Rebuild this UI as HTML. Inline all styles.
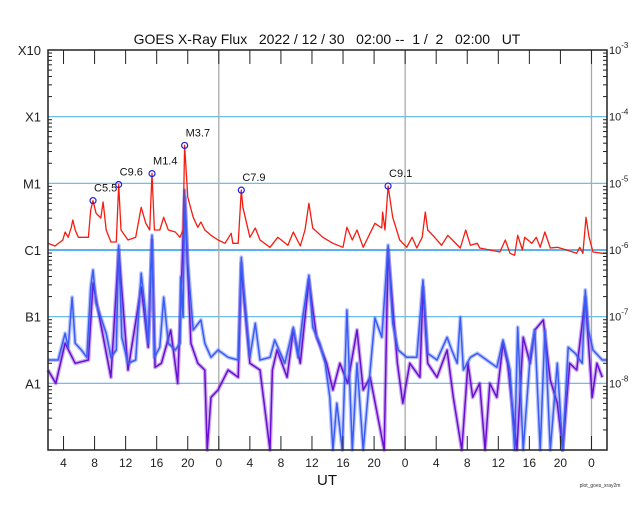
<!DOCTYPE html>
<html><head><meta charset="utf-8"><style>
html,body{margin:0;padding:0;background:#fff;}
svg text{font-family:"Liberation Sans",sans-serif;}
</style></head><body>
<svg id="chart" width="640" height="500" xmlns="http://www.w3.org/2000/svg">
<text x="327" y="44" font-size="14" text-anchor="middle" fill="#111" style="white-space:pre" xml:space="preserve">GOES X-Ray Flux   2022 / 12 / 30   02:00 --  1 /  2   02:00   UT</text>
<g id="grid"></g><g id="series"></g><g id="axes"></g><g id="flares"></g>
<text x="327" y="485" font-size="15" text-anchor="middle" fill="#111">UT</text>
<text x="600" y="487" font-size="5" text-anchor="middle" fill="#333">plot_goes_xray2m</text>
</svg>
<script>
// hours since 2022-12-30 02:00 UT ; values are log10 flux (W/m^2)
const redHours=[0,0.9,1.9,2.2,2.6,3.0,3.2,3.5,3.9,5.2,5.5,5.8,6.2,6.8,7.1,7.5,8.1,8.8,9.1,9.4,10.3,11.3,12.0,12.6,13.1,13.4,13.7,14.4,14.9,15.5,16.4,17.0,17.4,17.6,18.0,18.7,19.3,19.7,20.2,21.0,21.9,22.8,23.6,23.8,24.5,24.9,25.1,26.0,26.7,27.3,28.6,29.6,30.9,31.6,32.5,33.1,33.6,34.1,35.4,36.7,38.0,38.5,39.2,39.8,40.6,42.1,43.0,43.1,43.4,43.8,44.4,45.3,46.2,46.9,47.5,48.2,48.6,48.9,49.8,50.7,51.5,53.1,53.8,54.4,55.3,55.6,56.9,58.2,58.9,59.5,60.1,60.5,61.1,61.4,62.3,62.9,63.4,64.0,64.7,65.6,66.8,68.1,68.5,68.9,69.3,69.7,70.2,71.4,72];
const redLog=[-5.90,-5.94,-5.85,-5.73,-5.81,-5.66,-5.55,-5.70,-5.81,-5.81,-5.40,-5.26,-5.45,-5.52,-5.28,-5.70,-5.88,-5.88,-5.02,-5.70,-5.85,-5.81,-5.36,-5.60,-5.70,-4.85,-5.70,-5.70,-5.51,-5.70,-5.73,-5.81,-5.70,-4.43,-5.21,-5.51,-5.66,-5.58,-5.70,-5.78,-5.85,-5.90,-5.75,-5.90,-5.90,-5.10,-5.36,-5.81,-5.67,-5.85,-5.96,-5.81,-5.93,-5.73,-5.94,-5.70,-5.30,-5.67,-5.81,-5.90,-5.96,-5.66,-5.85,-5.70,-5.96,-5.60,-5.67,-5.43,-5.70,-5.04,-5.51,-5.85,-5.96,-5.81,-5.97,-5.81,-5.43,-5.70,-5.81,-5.93,-5.78,-5.97,-5.70,-5.93,-5.90,-5.97,-6.00,-6.03,-5.85,-6.05,-6.08,-5.78,-6.00,-5.81,-5.90,-5.81,-5.96,-5.73,-5.97,-5.96,-6.00,-6.05,-5.96,-6.05,-5.51,-5.81,-6.03,-6.05,-6.05];
const blueHours=[0,1.3,2.2,2.6,3.1,3.5,4.3,5.0,5.5,5.8,6.2,6.8,7.5,8.1,8.8,9.1,9.5,10.3,11.3,12.0,12.5,12.9,13.4,13.7,14.4,14.9,15.5,16.4,17.0,17.1,17.4,17.6,18.0,18.7,19.7,20.2,21.0,21.9,23.2,24.5,24.9,25.1,26.0,26.7,27.3,28.6,29.2,30.5,31.6,32.2,32.8,33.6,34.1,35.0,35.7,36.3,36.7,37.2,37.9,38.5,39.2,39.8,40.6,41.5,42.1,43.0,43.8,44.4,45.1,46.2,47.5,48.3,48.9,50.1,51.4,52.0,52.7,53.1,53.5,54.4,55.3,56.5,57.8,58.6,59.5,60.1,60.5,61.2,62.1,62.7,63.4,64.0,64.7,65.6,66.3,67.0,67.9,68.8,69.2,69.6,70.2,71.4,72];
const blueLog=[-7.65,-7.65,-7.25,-7.46,-6.71,-7.40,-7.50,-7.61,-6.56,-6.30,-6.80,-7.01,-7.25,-7.61,-7.50,-5.93,-7.31,-7.70,-7.65,-6.35,-6.86,-7.40,-5.78,-7.61,-7.46,-6.71,-7.40,-7.50,-7.40,-6.41,-7.01,-5.10,-6.20,-7.20,-7.05,-7.40,-7.61,-7.50,-7.61,-7.65,-6.11,-6.45,-7.61,-7.10,-7.65,-7.61,-7.35,-7.70,-7.16,-7.61,-7.01,-6.38,-7.16,-7.40,-7.70,-8.21,-9,-8.30,-9,-6.90,-9,-7.70,-9,-7.80,-7.02,-7.31,-5.93,-7.10,-7.50,-7.61,-7.61,-6.45,-7.55,-7.65,-7.31,-7.50,-7.70,-7.01,-7.80,-7.61,-7.55,-7.65,-7.76,-7.35,-7.80,-9,-7.16,-9,-7.61,-7.20,-9,-7.20,-9,-7.70,-9,-7.46,-7.55,-7.70,-6.60,-7.20,-7.50,-7.65,-7.65];
const purpleHours=[0,1.0,2.2,3.5,5.2,5.8,8.1,9.1,10.3,12.0,12.9,13.4,13.8,14.6,15.8,16.7,17.6,18.4,19.3,20.2,20.5,21.0,21.9,23.2,24.5,24.9,25.1,26.0,27.3,28.6,28.9,29.5,30.8,31.6,32.5,33.6,34.6,35.9,36.7,37.6,38.6,39.8,40.6,41.5,43.3,43.8,45.0,45.7,46.6,47.9,48.3,48.9,50.1,51.4,52.2,53.3,54.1,54.7,55.6,56.3,56.9,57.8,58.6,59.2,60.4,61.2,62.1,62.7,63.8,64.7,65.6,66.3,67.2,68.1,69.2,70.1,70.7,71.4];
const purpleLog=[-7.80,-8.00,-7.40,-7.70,-7.65,-6.50,-7.91,-6.00,-7.80,-6.56,-7.46,-5.85,-7.76,-7.70,-7.20,-8.00,-5.21,-7.40,-7.70,-7.80,-9,-8.21,-8.10,-7.80,-7.91,-6.20,-6.56,-7.70,-7.80,-9,-7.80,-7.50,-7.91,-7.20,-7.70,-6.45,-7.31,-7.70,-8.10,-7.70,-8.00,-7.20,-8.10,-7.91,-9,-6.00,-7.70,-8.30,-7.70,-7.91,-6.56,-7.70,-7.91,-7.50,-8.21,-9,-7.70,-8.21,-8.00,-9,-8.00,-8.21,-7.40,-7.70,-9,-7.31,-7.70,-7.20,-7.05,-7.95,-8.30,-9,-7.70,-7.80,-6.71,-8.21,-7.70,-7.91];
const flareHours=[5.8,9.1,13.4,17.6,24.9,43.8];
const flareLabels=["C5.5","C9.6","M1.4","M3.7","C7.9","C9.1"];
const flareFlux=[5.5e-6,9.6e-6,1.4e-5,3.7e-5,7.9e-6,9.1e-6];
const classLabels=["X10","X1","M1","C1","B1","A1"];
const classExp=[-3,-4,-5,-6,-7,-8];
const xTickLabels=["4","8","12","16","20","0","4","8","12","16","20","0","4","8","12","16","20","0"];
const xTickHours=[2,6,10,14,18,22,26,30,34,38,42,46,50,54,58,62,66,70];
const dayHours=[22,46,70];

const L=48,R=607,T=50,B=450,H0=0,H1=72,E0=-9,E1=-3;
const NS="http://www.w3.org/2000/svg";
function xs(h){return L+(h-H0)/(H1-H0)*(R-L);}
function ys(lg){lg=Math.max(E0,Math.min(E1,lg));return B-(lg-E0)/(E1-E0)*(B-T);}
function mk(tag,attrs,parent){const e=document.createElementNS(NS,tag);for(const k in attrs)e.setAttribute(k,attrs[k]);parent.appendChild(e);return e;}
const grid=document.getElementById('grid'),axes=document.getElementById('axes'),ser=document.getElementById('series'),fl=document.getElementById('flares');

classExp.forEach((ex,i)=>{
  const y=ys(ex);
  if(i>0){const g=mk('line',{x1:L,x2:R,y1:y,y2:y,stroke:'#5cb4ee','stroke-width':ex===-6?2:1.2},grid);
  
  }
  const t=mk('text',{x:41,y:y+5,'font-size':13,'text-anchor':'end',fill:'#222'},axes);t.textContent=classLabels[i];
  
  
  const rt=mk('text',{x:609,y:y+4,'font-size':11,fill:'#222'},axes);
  rt.textContent='10';
  const sup=mk('tspan',{dy:-6,'font-size':8},rt);sup.textContent=String(ex);
  
  
});
dayHours.forEach(h=>{const x=xs(h);const d=mk('line',{x1:x,x2:x,y1:T,y2:B,stroke:'#aaa','stroke-width':1.3},grid);
  
  });
for(let ex=E0;ex<E1;ex++){for(let m=2;m<10;m++){const y=ys(ex+Math.log10(m));
  mk('line',{x1:L,x2:L+4,y1:y,y2:y,stroke:'#222'},axes);mk('line',{x1:R-4,x2:R,y1:y,y2:y,stroke:'#222'},axes);}}
xTickHours.forEach((h,i)=>{const x=xs(h);
  mk('line',{x1:x,x2:x,y1:T,y2:T+14,stroke:'#222'},axes);mk('line',{x1:x,x2:x,y1:B-14,y2:B,stroke:'#222'},axes);
  const t=mk('text',{x:x,y:467,'font-size':12,'text-anchor':'middle',fill:'#222'},axes);t.textContent=xTickLabels[i];
  
  });
const frame=mk('rect',{x:L,y:T,width:R-L,height:B-T,fill:'none',stroke:'#222','stroke-width':1.5},axes);



function line(hs,vals,color,name,w,halo){const d=hs.map((h,i)=>(i?'L':'M')+xs(h).toFixed(1)+','+ys(vals[i]).toFixed(1)).join('');
  if(halo){const hp=mk('path',{d:d,fill:'none',stroke:color,'stroke-width':halo,'stroke-opacity':0.35,'stroke-linejoin':'round'},ser);
    
    }
  const p=mk('path',{d:d,fill:'none',stroke:color,'stroke-width':w,'stroke-linejoin':'round'},ser);
  
  }
line(purpleHours,purpleLog,'#6a0fd0','series-short-secondary',1.5,4);
line(blueHours,blueLog,'#3a5cf5','series-short-channel',1.5,4);
line(redHours,redLog,'#f51c10','series-long-channel',1.3,0);

flareHours.forEach((h,i)=>{const x=xs(h),y=ys(Math.log10(flareFlux[i]));
  const c=mk('circle',{cx:x,cy:y,r:3,fill:'none',stroke:'#2020e0','stroke-width':1.2},fl);
  
  
  const t=mk('text',{x:x+1,y:y-9,'font-size':11,fill:'#111'},fl);t.textContent=flareLabels[i];
  
  });
</script>
</body></html>
